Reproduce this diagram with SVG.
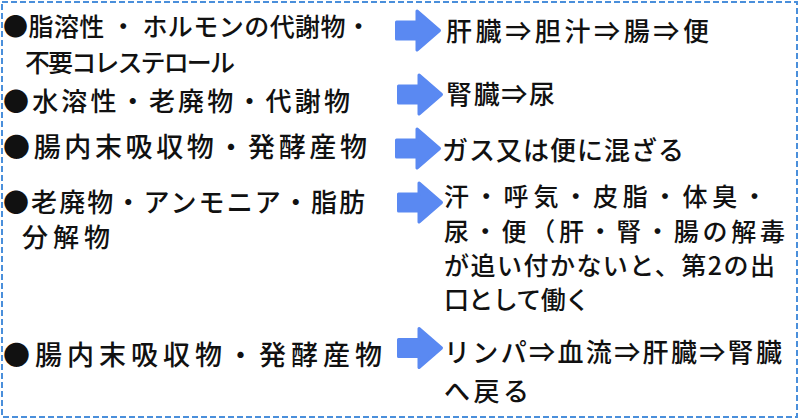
<svg xmlns="http://www.w3.org/2000/svg" xmlns:xlink="http://www.w3.org/1999/xlink" width="800" height="420" viewBox="0 0 800 420">
<style>
text{font-family:"Noto Sans CJK JP","Noto Sans",sans-serif;font-size:25px;font-weight:500;fill:#111;}
.big{font-size:27px;}
.mid{font-size:26px;}
.arrow{fill:#5a89f2;stroke:#5a89f2;stroke-width:3;stroke-linejoin:round;}
.frame{fill:none;stroke:#4a8fdb;stroke-width:2;stroke-dasharray:6 3;}
</style>
<defs>
<path id="arr" d="M1.5,-8.5 H22 V-19.5 L44.5,0 L22,19.5 V8.5 H1.5 Z"/>
</defs>
<rect width="800" height="420" fill="#fff"/>
<rect class="frame" x="2" y="2" width="795" height="415"/>
<g id="connectors">
<use href="#arr" xlink:href="#arr" class="arrow" transform="translate(395,30.5)"/>
<use href="#arr" xlink:href="#arr" class="arrow" transform="translate(397,94.5)"/>
<use href="#arr" xlink:href="#arr" class="arrow" transform="translate(395,148.5)"/>
<use href="#arr" xlink:href="#arr" class="arrow" transform="translate(397,202.5)"/>
<use href="#arr" xlink:href="#arr" class="arrow" transform="translate(397,348)"/>
</g>
<g id="src1">
<text x="3" y="36" textLength="368" lengthAdjust="spacing">●脂溶性 ・ ホルモンの代謝物・</text>
<text x="25" y="72" textLength="210" lengthAdjust="spacing">不要コレステロール</text>
</g>
<g id="src2">
<text class="mid" x="3" y="111" textLength="347" lengthAdjust="spacing">●水溶性・老廃物・代謝物</text>
</g>
<g id="src3">
<text class="big" x="3" y="157" textLength="364" lengthAdjust="spacing">●腸内末吸収物・発酵産物</text>
</g>
<g id="src4">
<text class="mid" x="3" y="212" textLength="362" lengthAdjust="spacing">●老廃物・アンモニア・脂肪</text>
<text class="mid" x="22" y="247" textLength="88" lengthAdjust="spacing">分解物</text>
</g>
<g id="src5">
<text class="big" x="3" y="365" textLength="379" lengthAdjust="spacing">●腸内末吸収物・発酵産物</text>
</g>
<g id="dst1">
<text class="mid" x="446" y="41" textLength="263" lengthAdjust="spacing">肝臓⇒胆汁⇒腸⇒便</text>
</g>
<g id="dst2">
<text class="mid" x="446" y="104" textLength="109" lengthAdjust="spacing">腎臓⇒尿</text>
</g>
<g id="dst3">
<text class="mid" x="442" y="160" textLength="242" lengthAdjust="spacing">ガス又は便に混ざる</text>
</g>
<g id="dst4">
<text x="444" y="206" textLength="323" lengthAdjust="spacing">汗・呼気・皮脂・体臭・</text>
<text x="444" y="241" textLength="341" lengthAdjust="spacing">尿・便（肝・腎・腸の解毒</text>
<text x="444" y="275" textLength="331" lengthAdjust="spacing">が追い付かないと、第2の出</text>
<text x="444" y="309" textLength="146" lengthAdjust="spacing">口として働く</text>
</g>
<g id="dst5">
<text class="mid" x="444" y="362" textLength="338" lengthAdjust="spacing">リンパ⇒血流⇒肝臓⇒腎臓</text>
<text class="mid" x="444" y="401" textLength="85" lengthAdjust="spacing">へ戻る</text>
</g>
</svg>
